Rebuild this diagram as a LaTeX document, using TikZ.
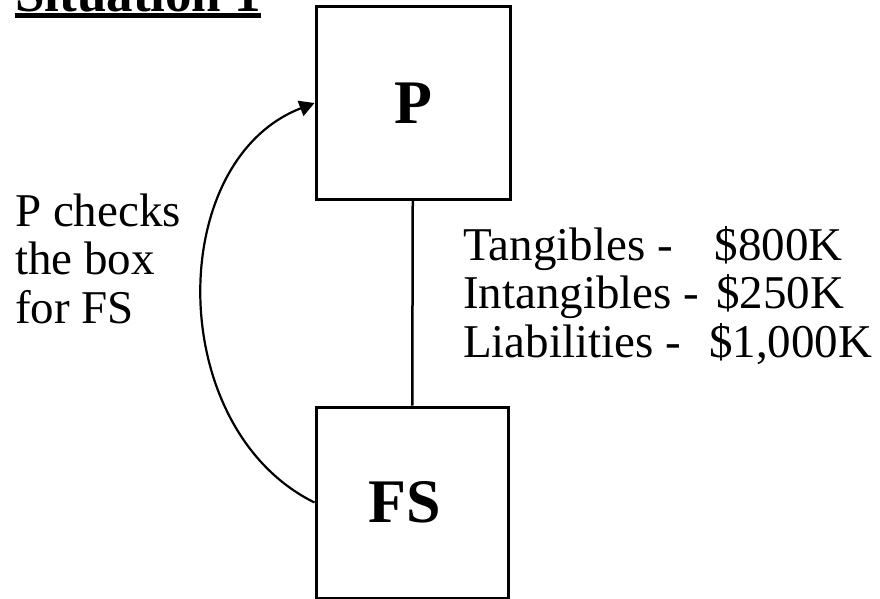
\documentclass[tikz,border=0pt]{standalone}
\usepackage{fontspec}
\setmainfont{Liberation Serif}
\usepackage{tikz}
\usetikzlibrary{arrows.meta,positioning,calc}
\tikzset{
  ent/.style  ={draw, rectangle, line width=3pt, inner sep=0pt,
                minimum width=194pt, minimum height=192pt,
                font=\fontsize{62}{62}\selectfont\bfseries},
  txt/.style  ={align=left, inner sep=0pt, font=\fontsize{47}{48.5}\selectfont},
  ttl/.style  ={inner sep=0pt, font=\fontsize{53}{53}\selectfont\bfseries},
  ln/.style   ={line width=2.5pt},
  ar/.style   ={-{Triangle[length=15pt,width=16pt]}, line width=2.2pt},
}
\begin{document}
\begin{tikzpicture}[x=1pt,y=1pt]
\useasboundingbox (0,0) rectangle (880,-599);
\node[ttl, anchor=base west] (title) at (15,-12) {Situation 1};
\draw[line width=5pt] ($(title.base west)+(0,-3.5)$) -- ($(title.base east)+(0,-3.5)$);
\node[ent] (P) at (413,-103) {P};
\node[ent, minimum width=192pt, minimum height=191pt] (FS) at (412,-502.5) {FS\kern14pt};
% anchor base = baseline of the last line
\node[txt, anchor=base west] (check) at (15,-323)
  {P checks\\the box\\for FS};
\node[txt, anchor=base west] (assets) at (463,-357)
  {Tangibles -\hspace{42pt}\$800K\\
   Intangibles -\hspace{17pt}\$250K\\
   Liabilities -\hspace{28pt}\$1,000K};
\draw[ln] (P) -- (FS);
\draw[ar] (FS.west) .. controls +(-150,74) and +(-150,-58) .. (P.west);
\end{tikzpicture}
\end{document}
